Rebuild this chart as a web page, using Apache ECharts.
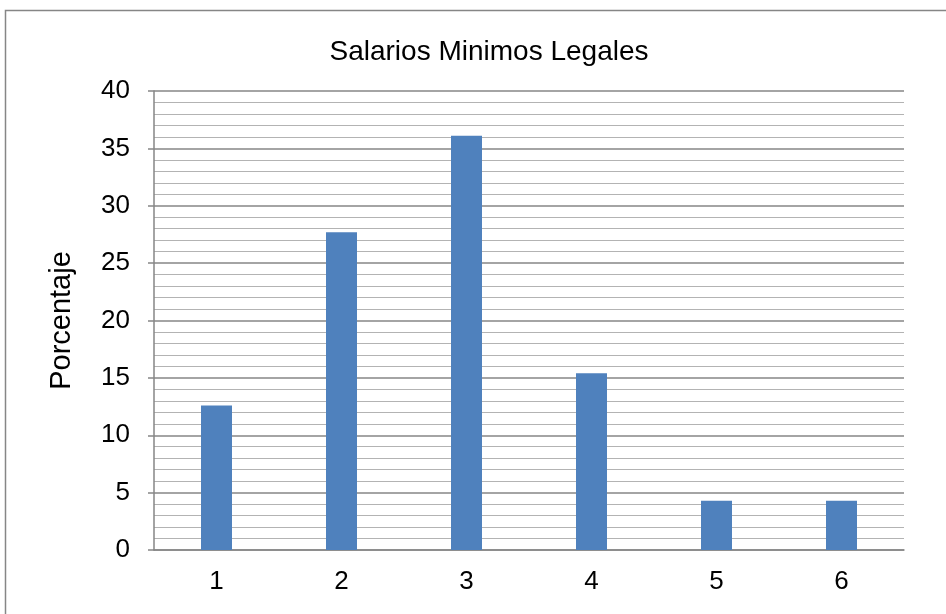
<!DOCTYPE html>
<html>
<head>
<meta charset="utf-8">
<script src="https://cdn.jsdelivr.net/npm/echarts@6/dist/echarts.min.js"></script>
<style>
  html, body { margin: 0; padding: 0; background: #fff; }
  #chart { width: 946px; height: 614px; }
</style>
</head>
<body>
<div id="chart"></div>
<script>
var categories = ["1", "2", "3", "4", "5", "6"];
var porcentaje = [12.6, 27.7, 36.1, 15.4, 4.3, 4.3];

var chart = echarts.init(document.getElementById("chart"));
var option = {
    animation: false,
    backgroundColor: "#fff",
    textStyle: { fontFamily: "Liberation Sans, Arial, sans-serif" },
    // outer chart border, runs off the right/bottom edge like the reference
    graphic: [{
        type: "rect",
        shape: { x: 5.5, y: 10.5, width: 1000, height: 1000 },
        style: { fill: "none", stroke: "#868686", lineWidth: 1.5 },
        silent: true
    }],
    title: {
        text: "Salarios Minimos Legales",
        left: 484, top: 33, textAlign: "center",
        textStyle: { fontSize: 28, fontWeight: "normal", color: "#000" }
    },
    grid: { left: 154, right: 42, top: 91, bottom: 64 },
    xAxis: {
        type: "category",
        data: categories,
        axisLine: { lineStyle: { color: "#868686", width: 1.5 } },
        axisTick: { show: false },
        axisLabel: { fontSize: 26, color: "#000", margin: 19 }
    },
    yAxis: {
        type: "value",
        min: 0, max: 40, interval: 5,
        name: "Porcentaje",
        nameLocation: "middle",
        nameGap: 78,
        nameTextStyle: { fontSize: 29, color: "#000" },
        axisLine: { show: true, lineStyle: { color: "#868686", width: 1.5 } },
        axisTick: { show: true, length: 6, lineStyle: { color: "#868686", width: 1.5 } },
        axisLabel: { fontSize: 26, color: "#000", margin: 24 },
        splitLine: { lineStyle: { color: "#868686", width: 1.5 } },
        minorTick: { show: false, splitNumber: 5 },
        minorSplitLine: { show: true, lineStyle: { color: "#b3b3b3", width: 1.2 } }
    },
    series: [{
        type: "bar",
        data: porcentaje,
        barWidth: "24.8%",
        itemStyle: { color: "#4f81bd" }
    }]
};
chart.setOption(option);
</script>
</body>
</html>
